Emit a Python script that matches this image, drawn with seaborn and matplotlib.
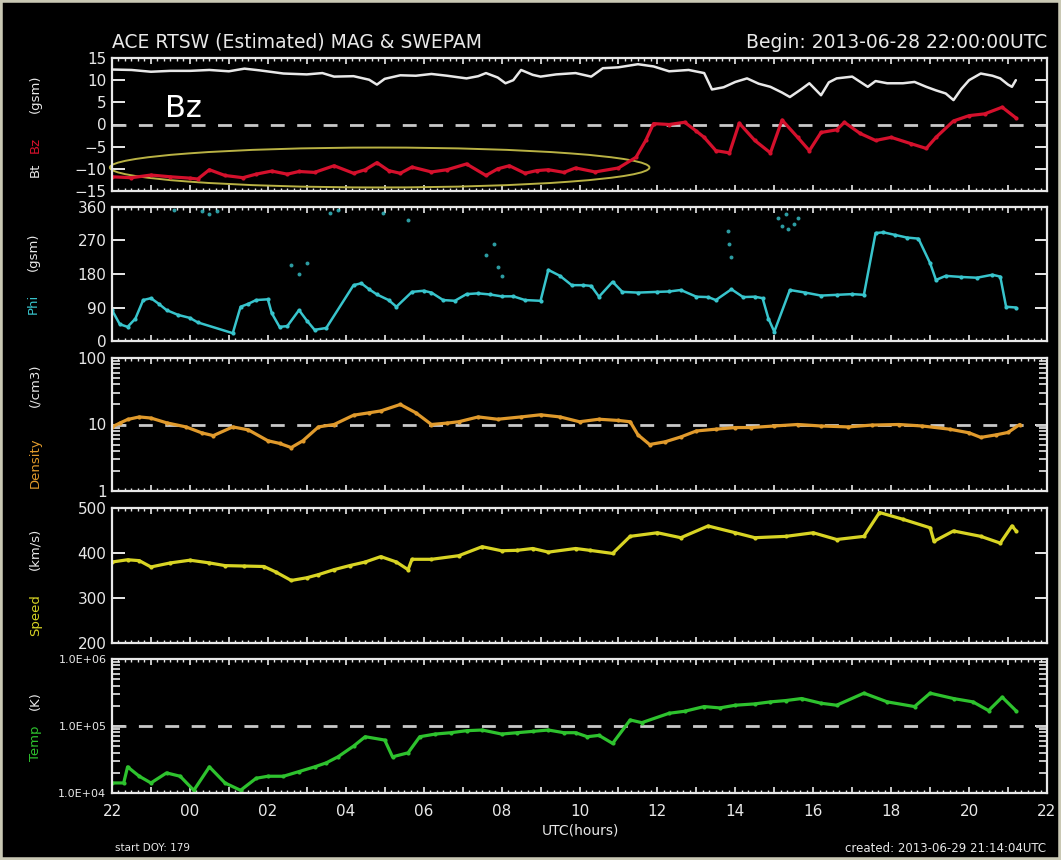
import numpy as np
import pandas as pd
import seaborn as sns
import matplotlib.pyplot as plt
from matplotlib.patches import Ellipse, Rectangle
from matplotlib.ticker import MultipleLocator, FuncFormatter, LogLocator, NullFormatter

# ---- data (hours after 2013-06-28 22:00 UTC) ----
bt_hours = [0, 0.5, 1.0, 1.5, 2.0, 2.5, 3.0, 3.4, 3.8, 4.4, 5.0, 5.4, 5.7, 6.2, 6.6, 6.8, 7.0, 7.4,
            7.8, 8.2, 8.6, 9.1, 9.4, 9.6, 9.9, 10.1, 10.3, 10.5, 10.8, 11.0, 11.4, 11.9, 12.3, 12.6,
            13.0, 13.5, 13.9, 14.3, 14.8, 15.2, 15.4, 15.7, 16.0, 16.3, 16.6, 16.9, 17.2, 17.4, 17.7,
            17.9, 18.2, 18.4, 18.6, 19.0, 19.4, 19.6, 19.9, 20.3, 20.6, 20.9, 21.15, 21.4, 21.6, 21.8,
            22.0, 22.3, 22.6, 22.8, 23.0, 23.1, 23.2]
bt_vals = [12.4, 12.3, 11.9, 12.1, 12.1, 12.3, 12.0, 12.6, 12.2, 11.5, 11.3, 11.6, 10.8, 10.9, 10.1,
           9.0, 10.3, 11.1, 11.0, 11.4, 11.0, 10.4, 10.9, 11.6, 10.6, 9.3, 10.0, 12.3, 11.2, 10.8,
           11.3, 11.6, 10.8, 12.7, 12.9, 13.6, 13.1, 12.0, 12.3, 11.6, 7.9, 8.4, 9.6, 10.4, 9.2, 8.5,
           7.2, 6.2, 8.0, 9.3, 6.6, 9.5, 10.4, 10.8, 8.5, 9.8, 9.3, 9.3, 9.6, 8.5, 7.7, 7.0, 5.5, 8.0,
           10.0, 11.5, 11.0, 10.4, 9.0, 8.5, 10.0]

bz_hours = [0, 0.5, 1.0, 1.5, 2.0, 2.2, 2.5, 2.9, 3.36, 3.7, 4.1, 4.5, 4.8, 5.2, 5.7, 6.2, 6.5, 6.8,
            7.1, 7.4, 7.7, 8.2, 8.6, 9.1, 9.6, 9.9, 10.2, 10.6, 10.9, 11.2, 11.6, 11.9, 12.4, 13.0,
            13.45, 13.7, 13.9, 14.3, 14.7, 15.0, 15.2, 15.5, 15.85, 16.1, 16.5, 16.9, 17.2, 17.6,
            17.9, 18.2, 18.6, 18.8, 19.2, 19.6, 20.0, 20.5, 20.9, 21.15, 21.6, 22.0, 22.4, 22.85, 23.2]
bz_vals = [-11.8, -12.0, -11.4, -11.8, -12.1, -12.3, -10.2, -11.5, -12.0, -11.2, -10.5, -11.2, -10.6,
           -10.8, -9.3, -11.0, -10.2, -8.6, -10.4, -11.0, -9.6, -10.7, -10.2, -8.9, -11.5, -10.0,
           -9.3, -11.0, -10.4, -10.2, -10.8, -9.8, -10.7, -9.8, -7.4, -3.6, 0.2, 0.0, 0.5, -1.5,
           -2.9, -5.9, -6.4, 0.3, -3.6, -6.4, 1.0, -2.9, -5.9, -1.8, -1.2, 0.5, -2.0, -3.6, -2.9,
           -4.3, -5.4, -2.9, 0.8, 2.0, 2.4, 3.9, 1.5]

phi_hours = [0, 0.2, 0.4, 0.6, 0.8, 1.0, 1.2, 1.4, 1.7, 2.0, 2.2, 3.1, 3.3, 3.5, 3.7, 4.0, 4.1, 4.3,
             4.5, 4.8, 5.0, 5.2, 5.5, 6.2, 6.4, 6.6, 6.8, 7.1, 7.3, 7.7, 8.0, 8.2, 8.5, 8.8, 9.1,
             9.4, 9.7, 10.0, 10.3, 10.6, 11.0, 11.2, 11.5, 11.8, 12.1, 12.3, 12.5, 12.85, 13.1,
             13.5, 14.0, 14.3, 14.6, 15.0, 15.3, 15.5, 15.9, 16.2, 16.5, 16.7, 16.85, 17.0, 17.4,
             17.8, 18.2, 18.6, 19.0, 19.3, 19.6, 19.8, 20.1, 20.4, 20.7, 21.0, 21.15, 21.4, 21.8,
             22.2, 22.6, 22.8, 22.95, 23.2]
phi_vals = [83, 45, 38, 60, 110, 115, 100, 83, 70, 62, 50, 21, 92, 100, 110, 112, 75, 38, 40, 83,
            55, 30, 35, 150, 155, 139, 125, 110, 92, 132, 135, 130, 110, 108, 126, 128, 125, 120,
            120, 110, 108, 191, 175, 150, 150, 148, 119, 159, 132, 130, 132, 133, 137, 119, 118,
            110, 139, 118, 119, 115, 60, 25, 137, 130, 122, 124, 126, 124, 290, 292, 285, 278, 275,
            209, 164, 175, 172, 170, 178, 173, 92, 90]
phi_extra_hours = [1.6, 2.3, 2.5, 2.7, 4.6, 4.8, 5.0, 5.6, 5.8, 6.96, 7.6, 9.6, 9.8, 9.9, 10.0,
                   15.8, 15.85, 15.9, 17.1, 17.2, 17.3, 17.35, 17.5, 17.6]
phi_extra_vals = [352, 350, 340, 348, 205, 180, 210, 345, 352, 344, 325, 230, 260, 200, 175,
                  295, 260, 225, 330, 310, 340, 300, 315, 330]

den_hours = [0, 0.2, 0.4, 0.7, 1.0, 1.4, 1.9, 2.3, 2.6, 3.1, 3.5, 4.0, 4.3, 4.6, 4.9, 5.3, 5.7, 6.2,
             6.6, 6.9, 7.4, 7.8, 8.2, 8.6, 8.9, 9.4, 9.9, 10.5, 11.0, 11.5, 12.0, 12.5, 13.0, 13.3,
             13.5, 13.8, 14.2, 14.6, 15.0, 15.5, 16.0, 16.4, 17.0, 17.6, 18.2, 18.9, 19.5, 20.2,
             20.8, 21.5, 22.0, 22.3, 22.7, 23.0, 23.3]
den_vals = [9.2, 10.5, 11.9, 13, 12.5, 10.6, 9.2, 7.5, 6.8, 9.2, 8.3, 5.7, 5.2, 4.5, 5.7, 9.2, 10,
            13.8, 15, 16, 20, 15, 10, 10.5, 11, 13, 12, 13, 14, 13, 11, 12, 11.5, 11, 7, 5, 5.5,
            6.5, 8, 8.5, 9, 9, 9.5, 10, 9.5, 9.2, 9.8, 10, 9.5, 8.5, 7.5, 6.4, 7, 7.6, 10]

spd_hours = [0, 0.4, 0.7, 1.0, 1.5, 2.0, 2.5, 2.9, 3.4, 3.9, 4.2, 4.6, 5.0, 5.3, 5.7, 6.1, 6.5, 6.9,
             7.3, 7.6, 7.7, 8.2, 8.9, 9.5, 10.0, 10.4, 10.8, 11.2, 11.9, 12.26, 12.85, 13.3, 14.0,
             14.6, 15.3, 16.0, 16.5, 17.3, 18.0, 18.6, 19.3, 19.7, 20.3, 21.0, 21.1, 21.6, 22.3,
             22.8, 23.1, 23.2]
spd_vals = [380, 385, 383, 369, 378, 384, 378, 372, 371, 370, 358, 339, 345, 352, 363, 372, 380,
            392, 380, 363, 386, 386, 394, 414, 405, 406, 410, 402, 410, 406, 399, 437, 445, 434,
            460, 445, 434, 437, 445, 430, 437, 490, 475, 456, 426, 449, 437, 422, 460, 450]

tmp_hours = [0, 0.3, 0.4, 0.7, 1.0, 1.4, 1.75, 2.1, 2.5, 2.9, 3.3, 3.7, 4.0, 4.4, 4.8, 5.2, 5.5, 5.8,
             6.2, 6.5, 7.0, 7.2, 7.6, 7.9, 8.3, 8.7, 9.1, 9.5, 10.0, 10.4, 10.8, 11.2, 11.6, 11.9,
             12.2, 12.5, 12.85, 13.3, 13.6, 14.3, 14.7, 15.2, 15.6, 16.0, 16.5, 16.9, 17.3, 17.7,
             18.2, 18.6, 19.3, 19.9, 20.6, 21.0, 21.6, 22.1, 22.5, 22.85, 23.2]
tmp_log = [4.15, 4.15, 4.39, 4.25, 4.15, 4.30, 4.25, 4.04, 4.39, 4.15, 4.04, 4.22, 4.25, 4.25, 4.32,
           4.39, 4.45, 4.54, 4.70, 4.84, 4.79, 4.54, 4.60, 4.84, 4.88, 4.90, 4.93, 4.94, 4.88,
           4.90, 4.92, 4.94, 4.90, 4.90, 4.84, 4.86, 4.74, 5.09, 5.05, 5.19, 5.22, 5.29, 5.27,
           5.31, 5.33, 5.36, 5.38, 5.41, 5.34, 5.31, 5.49, 5.36, 5.29, 5.49, 5.41, 5.36, 5.23,
           5.43, 5.23]
tmp_vals = [10 ** v for v in tmp_log]

x_labels = ['22', '00', '02', '04', '06', '08', '10', '12', '14', '16', '18', '20', '22']

# ---- style ----
sns.set_theme(style='dark')
plt.rcParams['font.family'] = ['DejaVu Sans']
plt.rcParams['axes.facecolor'] = 'black'
plt.rcParams['figure.facecolor'] = 'black'
plt.rcParams['text.color'] = 'white'

WHITE = '#e8e8e8'
RED = '#d4102c'
CYAN = '#38c4cc'
ORANGE = '#e09a2c'
YELLOW = '#d8d424'
GREEN = '#2ec22e'
DASH_COL = '#c8c8c8'

fig = plt.figure(figsize=(10.61, 8.60), dpi=100)
fig.patches.append(Rectangle((0, 0), 1, 1, transform=fig.transFigure, fill=False,
                             edgecolor='#c9c8b4', lw=4))

left, width = 112 / 1061, 935 / 1061
rows = [(58, 191), (207, 341), (358, 491), (508, 643), (659, 793)]
axes = [fig.add_axes([left, 1 - b / 860, width, (b - t) / 860]) for t, b in rows]


def style_axis(ax, bottom=False):
    ax.set_facecolor('black')
    ax.set_xlim(0, 24)
    for s in ax.spines.values():
        s.set_color(WHITE)
        s.set_linewidth(1.6)
        s.set_visible(True)
    ax.xaxis.set_major_locator(MultipleLocator(1))
    ax.xaxis.set_minor_locator(MultipleLocator(1 / 6))
    ax.tick_params(axis='x', which='major', direction='in', length=4, width=1.2,
                   colors=WHITE, top=True, bottom=True, labelsize=11, pad=8)
    ax.tick_params(axis='x', which='minor', direction='in', length=2, width=1,
                   colors=WHITE, top=True, bottom=True)
    ax.tick_params(axis='y', which='major', direction='in', length=9, width=1.4,
                   colors=WHITE, left=True, right=True, labelsize=11, pad=4)
    ax.tick_params(axis='y', which='minor', direction='in', length=6, width=1.2,
                   colors=WHITE, left=True, right=True)
    ax.grid(False)
    ax.set_xlabel('')
    ax.set_ylabel('')
    if bottom:
        ax.xaxis.set_major_formatter(FuncFormatter(
            lambda v, p: x_labels[int(round(v)) // 2] if int(round(v)) % 2 == 0 else ''))
    else:
        ax.set_xticklabels([])


def ylab(ax, parts, x=-0.082):
    for txt, col, yf in parts:
        ax.text(x, yf, txt, color=col, rotation=90, fontsize=9.5, ha='center', va='center',
                transform=ax.transAxes)


trace = dict(lw=2.3, marker='o', markersize=3, markeredgewidth=0)

# panel 1: Bt / Bz
ax = axes[0]
ax.axhline(0, color=DASH_COL, lw=2, dashes=(5, 4.5))
sns.lineplot(x=bt_hours, y=bt_vals, ax=ax, color=WHITE, lw=1.8)
sns.lineplot(x=bz_hours, y=bz_vals, ax=ax, color=RED, **trace)
ax.set_ylim(-15, 15)
ax.set_yticks([-15, -10, -5, 0, 5, 10, 15])
ax.add_patch(Ellipse((6.87, -9.7), 13.85, 9.0, fill=False, edgecolor='#b9b244', lw=1.4,
                     clip_on=False))
ax.text(1.36, 3.6, 'Bz', color='white', fontsize=22, ha='left', va='center')
style_axis(ax)
ylab(ax, [('Bt', WHITE, 0.158), ('Bz', RED, 0.346), ('(gsm)', WHITE, 0.73)])

# panel 2: Phi
ax = axes[1]
sns.lineplot(x=phi_hours, y=phi_vals, ax=ax, color=CYAN, lw=1.8, marker='o', markersize=3,
             markeredgewidth=0)
sns.scatterplot(x=phi_extra_hours, y=phi_extra_vals, ax=ax, color=CYAN, s=8, linewidth=0,
                alpha=0.8)
ax.set_ylim(0, 360)
ax.set_yticks([0, 90, 180, 270, 360])
style_axis(ax)
ylab(ax, [('Phi', CYAN, 0.276), ('(gsm)', WHITE, 0.664)], x=-0.084)

# panel 3: Density
ax = axes[2]
ax.set_yscale('log')
ax.axhline(10, color=DASH_COL, lw=2, dashes=(5, 4.5))
sns.lineplot(x=den_hours, y=den_vals, ax=ax, color=ORANGE, **trace)
ax.set_ylim(1, 100)
ax.set_yticks([1, 10, 100])
ax.set_yticklabels(['1', '10', '100'])
ax.yaxis.set_minor_locator(LogLocator(base=10, subs=np.arange(2, 10)))
ax.yaxis.set_minor_formatter(NullFormatter())
style_axis(ax)
ylab(ax, [('Density', ORANGE, 0.21), ('(/cm3)', WHITE, 0.797)])

# panel 4: Speed
ax = axes[3]
sns.lineplot(x=spd_hours, y=spd_vals, ax=ax, color=YELLOW, **trace)
ax.set_ylim(200, 500)
ax.set_yticks([200, 300, 400, 500])
style_axis(ax)
ylab(ax, [('Speed', YELLOW, 0.21), ('(km/s)', WHITE, 0.70)])

# panel 5: Temp
ax = axes[4]
ax.set_yscale('log')
ax.axhline(1e5, color=DASH_COL, lw=2, dashes=(5, 4.5))
sns.lineplot(x=tmp_hours, y=tmp_vals, ax=ax, color=GREEN, **trace)
ax.set_ylim(1e4, 1e6)
ax.set_yticks([1e4, 1e5, 1e6])
ax.set_yticklabels(['1.0E+04', '1.0E+05', '1.0E+06'])
ax.yaxis.set_minor_locator(LogLocator(base=10, subs=np.arange(2, 10)))
ax.yaxis.set_minor_formatter(NullFormatter())
style_axis(ax, bottom=True)
ax.tick_params(axis='y', which='major', labelsize=8)
ylab(ax, [('Temp', GREEN, 0.37), ('(K)', WHITE, 0.69)])

# header / footer text
fig.text(left, 1 - 48 / 860, 'ACE RTSW (Estimated) MAG & SWEPAM', color=WHITE, fontsize=13.5,
         ha='left', va='baseline')
fig.text(1047 / 1061, 1 - 48 / 860, 'Begin: 2013-06-28 22:00:00UTC', color=WHITE, fontsize=13.5,
         ha='right', va='baseline')
fig.text(580 / 1061, 1 - 830 / 860, 'UTC(hours)', color=WHITE, fontsize=10, ha='center',
         va='center')
fig.text(115 / 1061, 1 - 848 / 860, 'start DOY: 179', color=WHITE, fontsize=7.5, ha='left',
         va='center')
fig.text(1046 / 1061, 1 - 848 / 860, 'created: 2013-06-29 21:14:04UTC', color=WHITE,
         fontsize=8.5, ha='right', va='center')

fig.savefig('out.png', dpi=100, facecolor='black')
